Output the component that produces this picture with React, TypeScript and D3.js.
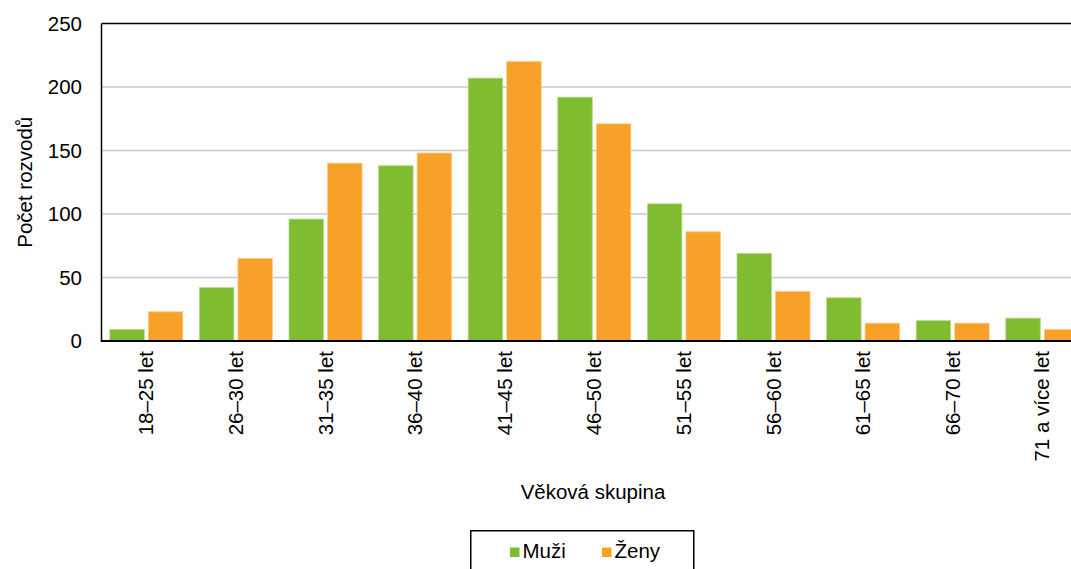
import { useEffect, useRef } from "react"
import * as d3 from "d3"

const categories = ["18–25 let", "26–30 let", "31–35 let", "36–40 let", "41–45 let", "46–50 let", "51–55 let", "56–60 let", "61–65 let", "66–70 let", "71 a více let"]
const muzi = [9, 42, 96, 138, 207, 192, 108, 69, 34, 16, 18]
const zeny = [23, 65, 140, 148, 220, 171, 86, 39, 14, 14, 9]
const seriesNames = ["Muži", "Ženy"]
const colors = ["#80bc2f", "#f8a128"]
const strokes = ["#b5da8a", "#fcc983"]
const yTicks = [0, 50, 100, 150, 200, 250]

const App = () => {
	const svgRef = useRef(null)

	useEffect(() => {
		const svg = d3.select(svgRef.current)
		svg.selectAll("*").remove()

		const width = 1071
		const height = 569
		const left = 101.5
		const top = 23.5
		const bottom = 341
		const bandW = 89.6
		const font = "'Liberation Sans', Arial, sans-serif"

		svg.attr("width", width).attr("height", height).style("display", "block")

		const x = d3.scaleBand().domain(categories).range([left, left + bandW * categories.length]).paddingInner(0).paddingOuter(0)
		const xs = d3.scaleBand().domain(seriesNames).range([0, bandW]).paddingInner(0.105).paddingOuter(0.215)
		const y = d3.scaleLinear().domain([0, 250]).range([bottom, top])

		// grid
		svg.append("g")
			.selectAll("line")
			.data(yTicks.filter(d => d > 0 && d < 250))
			.enter()
			.append("line")
			.attr("x1", left)
			.attr("x2", width)
			.attr("y1", d => y(d))
			.attr("y2", d => y(d))
			.attr("stroke", "#c8c8c8")
			.attr("stroke-width", 1.5)

		// bars
		const data = [muzi, zeny]
		data.forEach((vals, si) => {
			svg.append("g")
				.selectAll("rect")
				.data(vals)
				.enter()
				.append("rect")
				.attr("x", (d, i) => (x(categories[i]) as number) + (xs(seriesNames[si]) as number))
				.attr("y", d => y(d))
				.attr("width", xs.bandwidth())
				.attr("height", d => bottom - y(d))
				.attr("fill", colors[si])
				.attr("stroke", strokes[si])
				.attr("stroke-width", 0.8)
		})

		// frame
		svg.append("line").attr("x1", left).attr("x2", width).attr("y1", top).attr("y2", top).attr("stroke", "#000").attr("stroke-width", 1.5)
		svg.append("line").attr("x1", left).attr("x2", left).attr("y1", top).attr("y2", bottom).attr("stroke", "#000").attr("stroke-width", 1.5)
		svg.append("line").attr("x1", left - 0.75).attr("x2", width).attr("y1", bottom).attr("y2", bottom).attr("stroke", "#000").attr("stroke-width", 2.2)

		// y tick labels
		svg.append("g")
			.selectAll("text")
			.data(yTicks)
			.enter()
			.append("text")
			.attr("x", 82)
			.attr("y", d => y(d))
			.attr("dy", "0.35em")
			.attr("text-anchor", "end")
			.style("font-family", font)
			.style("font-size", "20.5px")
			.text(d => d)

		// x tick labels
		svg.append("g")
			.selectAll("text")
			.data(categories)
			.enter()
			.append("text")
			.attr("transform", d => "translate(" + ((x(d) as number) + bandW / 2) + "," + 351 + ") rotate(-90)")
			.attr("dy", "0.35em")
			.attr("text-anchor", "end")
			.style("font-family", font)
			.style("font-size", "20.5px")
			.text(d => d)

		// axis titles
		svg.append("text")
			.attr("transform", "translate(32," + (top + bottom) / 2 + ") rotate(-90)")
			.attr("text-anchor", "middle")
			.style("font-family", font)
			.style("font-size", "20.5px")
			.text("Počet rozvodů")

		svg.append("text")
			.attr("x", 593)
			.attr("y", 499)
			.attr("text-anchor", "middle")
			.style("font-family", font)
			.style("font-size", "20.5px")
			.text("Věková skupina")

		// legend
		svg.append("rect")
			.attr("x", 470.75)
			.attr("y", 530.75)
			.attr("width", 223)
			.attr("height", 60)
			.attr("fill", "none")
			.attr("stroke", "#000")
			.attr("stroke-width", 1.5)

		const legendX = [510, 602]
		seriesNames.forEach((name, i) => {
			svg.append("rect")
				.attr("x", legendX[i])
				.attr("y", 547.5)
				.attr("width", 9.5)
				.attr("height", 9.5)
				.attr("fill", colors[i])
			svg.append("text")
				.attr("x", legendX[i] + 12.5)
				.attr("y", 557.5)
				.style("font-family", font)
				.style("font-size", "20.5px")
				.text(name)
		})
	}, [])

	return <svg ref={svgRef} style={{ position: "absolute", left: 0, top: 0 }}></svg>
}

export default App
